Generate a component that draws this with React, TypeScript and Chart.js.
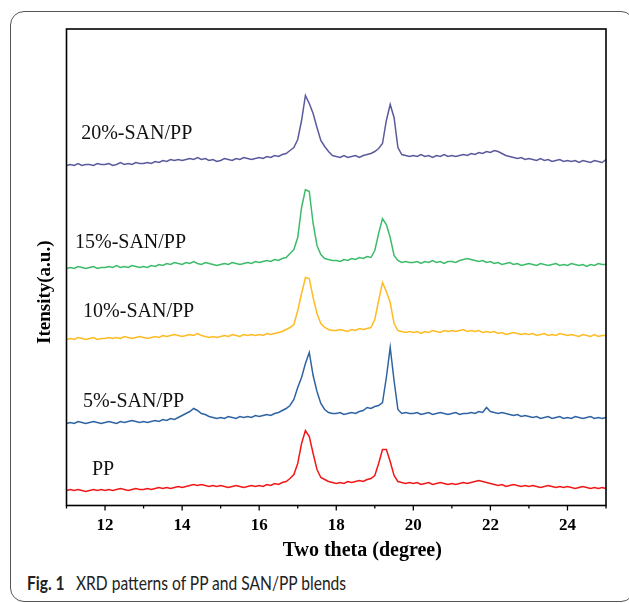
import React, { useEffect, useRef } from "react";
import { Chart, registerables } from "chart.js";

Chart.register(...registerables);

// Sampling grid of the diffractograms (two theta, degree)
const twoTheta: number[] = Array.from({ length: 141 }, (_, i) => Math.round((11 + i * 0.1) * 10) / 10);

// Intensities (a.u., curves already offset vertically as in the figure)
const pp: number[] = [
  15, 16, 15, 16, 15, 14, 15, 16, 15, 16,
  15, 16, 15, 16, 17, 16, 15, 16, 17, 16,
  16, 17, 16, 17, 18, 17, 18, 17, 18, 19,
  18, 19, 20, 21, 20, 21, 20, 19, 20, 19,
  20, 19, 18, 19, 20, 19, 18, 19, 20, 19,
  20, 19, 21, 20, 22, 21, 23, 24, 27, 31,
  42, 62, 75, 69, 52, 36, 28, 26, 24, 23,
  22, 23, 22, 24, 23, 24, 25, 24, 26, 27,
  30, 42, 56, 56, 44, 30, 24, 23, 22, 23,
  22, 23, 21, 22, 23, 21, 22, 23, 22, 21,
  22, 21, 22, 23, 22, 23, 24, 25, 24, 23,
  22, 21, 20, 21, 19, 20, 21, 20, 19, 20,
  19, 20, 19, 18, 19, 20, 19, 18, 19, 18,
  19, 18, 17, 18, 19, 18, 17, 18, 17, 18,
  17,
];
const san5: number[] = [
  82, 83, 82, 84, 83, 82, 83, 84, 83, 82,
  83, 84, 83, 82, 84, 83, 84, 85, 84, 83,
  84, 83, 84, 85, 84, 86, 85, 87, 86, 88,
  90, 92, 94, 97, 95, 92, 91, 89, 88, 87,
  88, 87, 89, 88, 87, 89, 88, 89, 88, 90,
  89, 90, 91, 90, 92, 93, 95, 97, 100, 106,
  118, 128, 142, 153, 130, 114, 102, 96, 93, 92,
  92, 93, 91, 92, 93, 92, 94, 95, 98, 97,
  99, 100, 103, 128, 158, 125, 96, 92, 93, 92,
  92, 93, 91, 92, 93, 91, 92, 93, 92, 91,
  92, 93, 91, 92, 92, 93, 92, 94, 93, 98,
  94, 93, 92, 93, 92, 91, 90, 91, 89, 90,
  89, 88, 89, 87, 88, 89, 87, 88, 89, 87,
  88, 87, 89, 88, 87, 88, 89, 87, 88, 87,
  88,
];
const san10: number[] = [
  166, 167, 166, 168, 167, 166, 167, 168, 166, 167,
  167, 168, 167, 168, 167, 169, 168, 167, 168, 169,
  168, 167, 168, 169, 168, 170, 169, 170, 171, 170,
  169, 170, 171, 170, 172, 170, 169, 168, 169, 168,
  169, 170, 169, 171, 170, 169, 171, 170, 171, 170,
  171, 170, 172, 171, 172, 173, 174, 176, 178, 181,
  195, 212, 228, 227, 208, 192, 182, 178, 176, 175,
  175, 176, 175, 174, 176, 175, 177, 176, 177, 178,
  186, 205, 223, 214, 203, 182, 175, 174, 173, 174,
  173, 174, 172, 174, 173, 175, 174, 173, 175, 174,
  175, 174, 175, 176, 174, 175, 174, 175, 173, 174,
  173, 174, 172, 173, 171, 172, 173, 172, 171, 172,
  171, 172, 170, 171, 172, 170, 171, 170, 172, 171,
  170, 171, 170, 169, 171, 170, 169, 171, 169, 170,
  170,
];
const san15: number[] = [
  237, 238, 237, 239, 238, 237, 238, 239, 237, 238,
  238, 239, 238, 240, 238, 239, 238, 240, 239, 238,
  239, 238, 240, 239, 241, 240, 242, 241, 243, 242,
  241, 243, 242, 244, 242, 241, 243, 242, 241, 240,
  241, 242, 241, 243, 242, 241, 242, 243, 242, 244,
  243, 244, 245, 244, 246, 245, 247, 248, 252, 256,
  268, 298, 316, 314, 282, 260, 251, 247, 246, 245,
  245, 244, 246, 245, 247, 246, 248, 247, 249, 248,
  255, 272, 287, 281, 268, 250, 245, 243, 244, 243,
  243, 244, 242, 244, 243, 245, 243, 244, 242, 244,
  244, 243, 245, 246, 247, 246, 245, 244, 245, 243,
  244, 242, 243, 241, 242, 243, 241, 242, 240, 241,
  242, 241, 240, 242, 241, 240, 241, 242, 240, 241,
  240, 242, 241, 240, 241, 239, 241, 240, 242, 241,
  241,
];
const san20: number[] = [
  340, 341, 340, 342, 340, 341, 341, 340, 342, 341,
  341, 342, 340, 341, 343, 341, 342, 341, 343, 342,
  342, 343, 342, 344, 343, 345, 344, 346, 345, 346,
  345, 346, 347, 346, 348, 346, 347, 345, 346, 344,
  345, 347, 346, 345, 347, 346, 348, 347, 346, 347,
  348, 347, 349, 348, 350, 349, 351, 352, 355, 358,
  366, 385, 410, 402, 392, 378, 365, 359, 354, 350,
  349, 348, 350, 348, 349, 350, 348, 350, 351, 352,
  354, 357, 362, 385, 401, 388, 358, 351, 350, 349,
  350, 349, 351, 349, 350, 348, 350, 349, 351, 349,
  350, 349, 350, 351, 350, 352, 351, 353, 352, 354,
  353, 355, 354, 352, 350, 349, 348, 347, 348, 346,
  347, 346, 345, 347, 345, 346, 344, 345, 346, 344,
  345, 344, 345, 343, 345, 344, 343, 345, 344, 343,
  346,
];

const seriesNames = ["PP", "5%-SAN/PP", "10%-SAN/PP", "15%-SAN/PP", "20%-SAN/PP"];
const seriesColors = ["#f01818", "#2f64a2", "#ffbb22", "#3cbc6a", "#5a5a9c"];
// In-plot label anchors (two theta, intensity)
const labelX = [11.66, 11.43, 11.43, 11.22, 11.38];
const labelY = [35.5, 103.5, 193.5, 262.5, 371.5];

const majorTicks = [12, 14, 16, 18, 20, 22, 24];
const minorTicks = [11, 13, 15, 17, 19, 21, 23, 25];

const decor = {
  id: "decor",
  afterDatasetsDraw(chart: any) {
    const { ctx, chartArea: a, scales } = chart;
    const x = scales.x;
    const y = scales.y;
    ctx.save();
    ctx.strokeStyle = "#000";
    ctx.lineWidth = 1.6;
    ctx.strokeRect(a.left, a.top, a.right - a.left, a.bottom - a.top);
    ctx.lineWidth = 1.3;
    ctx.beginPath();
    for (const v of majorTicks) {
      const px = x.getPixelForValue(v);
      ctx.moveTo(px, a.bottom);
      ctx.lineTo(px, a.bottom + 5);
    }
    for (const v of minorTicks) {
      const px = x.getPixelForValue(v);
      ctx.moveTo(px, a.bottom);
      ctx.lineTo(px, a.bottom + 3);
    }
    ctx.stroke();

    ctx.fillStyle = "#111";
    ctx.font = '20px "Liberation Serif"';
    ctx.textAlign = "left";
    ctx.textBaseline = "middle";
    seriesNames.forEach((t, i) => {
      ctx.fillText(t, x.getPixelForValue(labelX[i]), y.getPixelForValue(labelY[i]));
    });

    ctx.fillStyle = "#000";
    ctx.font = 'bold 20px "Liberation Serif"';
    ctx.textAlign = "center";
    ctx.textBaseline = "middle";
    ctx.fillText("Two theta (degree)", (a.left + a.right) / 2 + 26, a.bottom + 45);
    ctx.translate(45, (a.top + a.bottom) / 2 + 25);
    ctx.rotate(-Math.PI / 2);
    ctx.font = 'bold 19px "Liberation Serif"';
    ctx.fillText("Itensity(a.u.)", 0, 0);
    ctx.restore();
  },
};

export default function App() {
  const ref = useRef<HTMLCanvasElement | null>(null);
  useEffect(() => {
    if (!ref.current) return;
    const all = [pp, san5, san10, san15, san20];
    const chart = new Chart(ref.current, {
      type: "line",
      data: {
        datasets: all.map((arr, k) => ({
          label: seriesNames[k],
          data: twoTheta.map((t, i) => ({ x: t, y: arr[i] })),
          borderColor: seriesColors[k],
          borderWidth: 1.5,
          pointRadius: 0,
          tension: 0,
          fill: false,
        })),
      },
      options: {
        animation: false,
        responsive: true,
        maintainAspectRatio: false,
        layout: { padding: { left: 66.5, top: 29, right: 23, bottom: 67.5 } },
        plugins: { legend: { display: false }, tooltip: { enabled: false } },
        scales: {
          x: {
            type: "linear",
            min: 11,
            max: 25,
            afterBuildTicks: (axis: any) => {
              axis.ticks = majorTicks.map((v) => ({ value: v }));
            },
            afterFit: (axis: any) => {
              axis.height = 30;
            },
            grid: { display: false, drawTicks: false, drawOnChartArea: false },
            border: { display: false },
            ticks: {
              padding: 10,
              color: "#000",
              font: { family: '"Liberation Serif"', size: 17, weight: "bold" },
              maxRotation: 0,
              autoSkip: false,
            },
          },
          y: { display: false, min: 0, max: 476.5 },
        },
      },
      plugins: [decor],
    });
    return () => chart.destroy();
  }, []);

  return (
    <div style={{ position: "fixed", left: 0, top: 0, width: 629, height: 603, background: "#fff" }}>
      <div
        style={{
          position: "absolute",
          left: 10,
          top: 11,
          width: 625,
          height: 591,
          boxSizing: "border-box",
          border: "1px solid #555",
          borderRadius: 14,
        }}
      />
      <div
        style={{
          position: "absolute",
          left: 27,
          top: 572,
          fontFamily: "Lato, 'Noto Sans', sans-serif",
          fontSize: 19,
          lineHeight: "22px",
          color: "#222",
          whiteSpace: "nowrap",
          transform: "scaleX(0.82)",
          transformOrigin: "left center",
        }}
      >
        <b>Fig. 1</b>
        <span style={{ marginLeft: 14 }}>XRD patterns of PP and SAN/PP blends</span>
      </div>
      <div style={{ position: "absolute", left: 0, top: 0, width: 629, height: 603 }}>
        <canvas ref={ref} />
      </div>
    </div>
  );
}
